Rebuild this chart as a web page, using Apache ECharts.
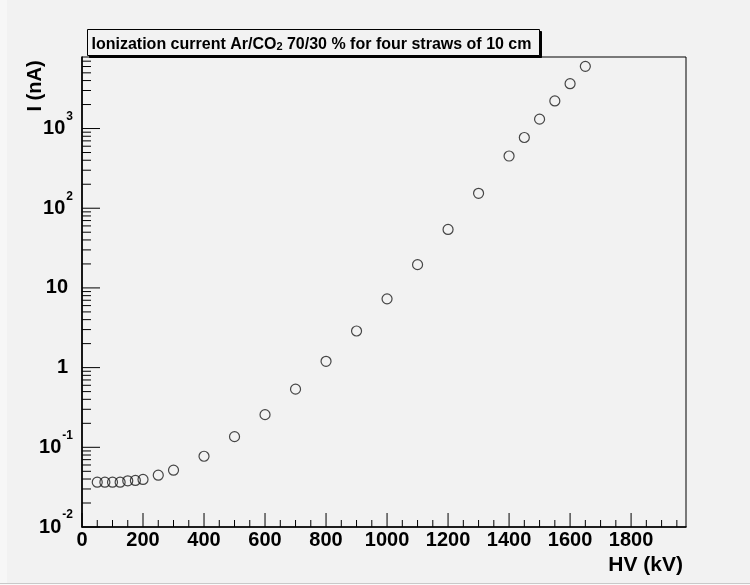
<!DOCTYPE html>
<html>
<head>
<meta charset="utf-8">
<script src="https://cdn.jsdelivr.net/npm/echarts@6/dist/echarts.min.js"></script>
<style>
  html, body { margin: 0; padding: 0; background: #f2f2f2; }
  #chart { width: 750px; height: 585px; }
</style>
</head>
<body>
<div id="chart"></div>
<script>
// Ionization current vs. high voltage, Ar/CO2 70/30, four 10 cm straws
const hv = [50, 75, 100, 125, 150, 175, 200, 250, 300, 400, 500, 600, 700, 800, 900,
            1000, 1100, 1200, 1300, 1400, 1450, 1500, 1550, 1600, 1650];
const current = [0.0365, 0.0365, 0.0365, 0.0365, 0.038, 0.0384, 0.0395, 0.0447, 0.0516,
                 0.0772, 0.136, 0.257, 0.537, 1.20, 2.88, 7.29, 19.6, 54.2, 154, 452,
                 772, 1311, 2218, 3651, 6026];

const xTickLabels = ['0', '200', '400', '600', '800', '1000', '1200', '1400', '1600', '1800'];
const yTickLabels = ['10^-2', '10^-1', '1', '10', '10^2', '10^3'];

const X_MIN = 0, X_MAX = 1980;
const Y_MIN = 0.01, Y_MAX = 7900;
const FONT = '"Liberation Sans", Arial, Helvetica, sans-serif';

// tick marks: majors every 200 V with minors every 50 V; log decades with 2..9 minors
const xTicks = [];
for (let v = X_MIN; v < X_MAX; v += 50) xTicks.push([v, Y_MIN, v % 200 === 0 ? 1 : 0]);
const yTicks = [];
for (let e = -2; e <= 3; e++) {
  for (let m = 1; m <= 9; m++) {
    const v = m * Math.pow(10, e);
    if (v >= Y_MIN && v <= Y_MAX) yTicks.push([X_MIN, v, m === 1 ? 1 : 0]);
  }
}

// map a log tick value to its label string from yTickLabels
function yLabel(value) {
  const lg = Math.log10(value);
  const e = Math.round(lg);
  if (Math.abs(lg - e) > 1e-6) return '';
  const s = yTickLabels[e + 2];
  if (s === undefined) return '';
  const parts = s.split('^');
  if (parts.length === 2) return '{b|' + parts[0] + '}{s|' + parts[1] + '}';
  return '{p|' + s + '}';
}

const chart = echarts.init(document.getElementById('chart'), null, { renderer: 'canvas' });
chart.setOption({
  animation: false,
  backgroundColor: '#f2f2f2',
  grid: {
    left: 82, right: 64, top: 57, bottom: 58,
    show: true, borderColor: '#000', borderWidth: 1, backgroundColor: 'transparent'
  },
  xAxis: {
    type: 'value',
    min: X_MIN, max: X_MAX, interval: 200,
    axisLine: { show: true, lineStyle: { color: '#000', width: 1.6 } },
    axisTick: { show: false },
    splitLine: { show: false },
    axisLabel: {
      showMaxLabel: false,
      margin: 3,
      fontFamily: FONT, fontWeight: 'bold', fontSize: 20, color: '#000',
      formatter: v => { const i = Math.round(v / 200); return (v % 200 === 0 && xTickLabels[i]) ? xTickLabels[i] : ''; }
    }
  },
  yAxis: {
    type: 'log', logBase: 10,
    min: Y_MIN, max: Y_MAX,
    axisLine: { show: true, lineStyle: { color: '#000', width: 1.6 } },
    axisTick: { show: false },
    splitLine: { show: false },
    axisLabel: {
      showMaxLabel: false,
      margin: 9,
      formatter: yLabel,
      rich: {
        b: { fontFamily: FONT, fontWeight: 'bold', fontSize: 20, color: '#000', lineHeight: 20, verticalAlign: 'bottom' },
        s: { fontFamily: FONT, fontWeight: 'bold', fontSize: 12, color: '#000', lineHeight: 12, padding: [0, 0, 16, 1], verticalAlign: 'bottom' },
        p: { fontFamily: FONT, fontWeight: 'bold', fontSize: 20, color: '#000', lineHeight: 20, padding: [0, 5, 0, 0] }
      }
    }
  },
  graphic: [
    { type: 'rect', z: -10, shape: { x: 0, y: 0, width: 7, height: 583 }, style: { fill: '#f7f7f7' } },
    { type: 'rect', z: -10, shape: { x: 0, y: 583, width: 750, height: 1 }, style: { fill: '#c9c9c9' } },
    { type: 'rect', z: -10, shape: { x: 0, y: 584, width: 750, height: 1 }, style: { fill: '#fafafa' } },
    // title box with drop shadow
    {
      type: 'rect', z: 100,
      shape: { x: 87.5, y: 29.5, width: 452, height: 26 },
      style: { fill: '#f2f2f2', stroke: '#000', lineWidth: 1, shadowColor: '#000', shadowBlur: 0, shadowOffsetX: 2, shadowOffsetY: 2 }
    },
    {
      type: 'rect', z: 101,
      shape: { x: 88, y: 30, width: 451, height: 25 },
      style: { fill: '#f2f2f2' }
    },
    {
      type: 'text', z: 102, x: 91.5, y: 42.5,
      style: {
        text: '{t|Ionization current Ar/CO}{sub|2}{t| 70/30 % for four straws of 10 cm}',
        align: 'left', verticalAlign: 'middle',
        rich: {
          t: { font: 'bold 16px ' + FONT, fill: '#000', lineHeight: 20, verticalAlign: 'bottom' },
          sub: { font: 'bold 11px ' + FONT, fill: '#000', lineHeight: 11, padding: [6, 0, 0, 0], verticalAlign: 'bottom' }
        }
      }
    },
    {
      type: 'text', x: 35, y: 86, rotation: Math.PI / 2,
      style: { text: 'I (nA)', font: 'bold 20px ' + FONT, fill: '#000', align: 'center', verticalAlign: 'middle' }
    },
    {
      type: 'text', x: 683, y: 565,
      style: { text: 'HV (kV)', font: 'bold 21px ' + FONT, fill: '#000', align: 'right', verticalAlign: 'middle' }
    }
  ],
  series: [
    {
      type: 'custom',
      silent: true,
      clip: false,
      data: xTicks,
      encode: { x: 0, y: 1 },
      renderItem: (params, api) => {
        const p = api.coord([api.value(0), Y_MIN]);
        const len = api.value(2) ? 14 : 7;
        return { type: 'line', shape: { x1: p[0], y1: p[1], x2: p[0], y2: p[1] - len }, style: { stroke: '#000', lineWidth: 1 } };
      }
    },
    {
      type: 'custom',
      silent: true,
      clip: false,
      data: yTicks,
      encode: { x: 0, y: 1 },
      renderItem: (params, api) => {
        const p = api.coord([X_MIN, api.value(1)]);
        const len = api.value(2) ? 18 : 9;
        return { type: 'line', shape: { x1: p[0], y1: p[1], x2: p[0] + len, y2: p[1] }, style: { stroke: '#000', lineWidth: 1 } };
      }
    },
    {
      type: 'scatter',
      silent: true,
      symbol: 'circle',
      symbolSize: 10,
      data: hv.map((x, i) => [x, current[i]]),
      itemStyle: { color: 'rgba(0,0,0,0)', borderColor: '#1a1a1a', borderWidth: 1.2 }
    }
  ]
});
</script>
</body>
</html>
